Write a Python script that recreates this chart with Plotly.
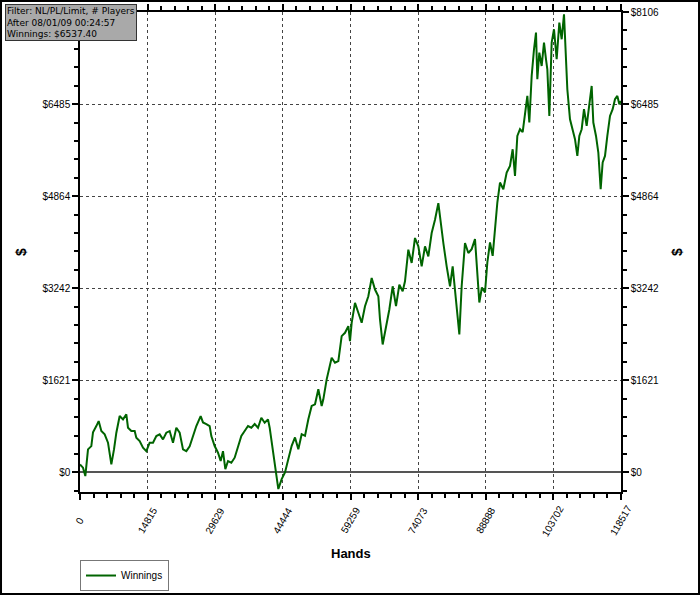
import plotly.graph_objects as go

# cumulative winnings
hands = [
    0, 657, 1168, 1753, 2483, 2848, 3578, 4089, 4674, 5404, 6134, 6865, 7448,
    7960, 8690, 9420, 10150, 10515, 11245, 11976, 12341, 13071, 13801, 14531,
    15262, 15992, 16722, 17453, 18183, 18913, 19643, 20374, 21104, 21834,
    22564, 23294, 24025, 24755, 25485, 26434, 26946, 27676, 28406, 28771,
    29502, 30232, 30816, 31327, 31838, 32422, 33152, 33883, 34613, 35343,
    36073, 36804, 37534, 38264, 38994, 39724, 40455, 41185, 41550,
    42353, 42937, 43449, 44179, 44909, 45640, 46370, 47100, 47830, 48561,
    49291, 50021, 50751, 51482, 52212, 52942, 53307, 54037, 54621, 55133,
    55863, 56593, 57323, 58054, 58784, 59149, 59514, 60244, 60975, 61705,
    62435, 63165, 63896, 64626, 65356, 65721, 66305, 67036, 67766, 68496,
    69226, 69957, 70687, 71198, 71928, 72659, 73389, 74119, 74849, 75580,
    76310, 77040, 77770, 78501, 79012, 79596, 80326, 81057, 81641, 82152,
    82663, 83102, 83613, 84343, 85073,
    85803, 86533, 87044, 87482, 88043, 88723, 89235, 89819, 90403, 90914,
    91426, 92010, 92740, 93470, 94201, 94785, 95296, 95807, 96391, 96976,
    97487, 97998, 98436, 98947, 99458, 99896, 100188, 100626, 101138, 101649,
    102087, 102379, 102817, 103328, 103839, 104423, 105008, 105519, 106030,
    106468, 106760, 107344, 107928, 108440, 108951, 109389, 109900, 110411,
    110995, 111579, 112091, 112456, 113040, 113551, 114062, 114500, 115011,
    115522, 116107, 116691, 117202, 117713, 118151, 118517,
]
winnings = [
    140, 83, -65, 405, 463, 705, 816, 904, 728, 670, 523, 141, 405,
    699, 992, 934, 1022, 787, 728, 728, 611, 552, 435, 375,
    523, 523, 640, 670, 581, 699, 728, 523, 787, 699,
    405, 375, 458, 640, 816, 992, 880, 851, 816, 640,
    464, 346, 200, 375, 58, 200, 170, 259, 464, 640,
    728, 816, 787, 851, 787, 962, 875, 934, 787,
    351, 0, -293, -118, 0, 234, 468, 615, 409, 673,
    643, 936, 1170, 1199, 1463, 1170, 1287, 1638, 1872, 2019,
    1931, 1960, 2399, 2458, 2575, 2311, 2634, 2985, 2810, 2634,
    2926, 3101, 3424, 3219, 3101, 2692, 2253, 2575, 2868, 3277,
    2926, 3307, 3189, 3365, 3921, 3688, 4127, 3980, 3628, 3980,
    3804, 4215, 4448, 4741, 4390, 4039, 3628, 3277, 3628, 3219,
    2868, 2429, 3277, 4039, 3863,
    3930, 4106, 3460, 2992, 3256, 3168, 3696, 4048, 3812, 4340,
    4752, 5104, 4986, 5280, 5396, 5690, 5220, 5924, 6042, 5990,
    6336, 6628, 6160, 6980, 7450, 7744, 6922, 7392, 7156, 7568,
    7274, 7098, 6276, 7568, 7802, 7274, 7920, 7626, 8066,
    7392, 6746, 6218, 6042, 5866, 5572, 5924, 6042, 6394,
    6100, 6452, 6804, 6160, 5924, 5632, 4986, 5456, 5572,
    5924, 6276, 6394, 6570, 6628, 6482, 6537.40,
]

x_ticks = [0, 14815, 29629, 44444, 59259, 74073, 88888, 103702, 118517]
x_tick_text = ["0", "14815", "29629", "44444", "59259", "74073", "88888", "103702", "118517"]
y_ticks = [0, 1621, 3242, 4864, 6485, 8106]
y_tick_text = ["$0", "$1621", "$3242", "$4864", "$6485", "$8106"]
# top-left label sits under the filter box in the original
y_tick_text_left = y_tick_text[:-1] + [""]

y_range = [-345, 8106]
FONT = "Liberation Sans, Arial, sans-serif"

fig = go.Figure()
fig.add_trace(go.Scatter(
    x=hands, y=winnings, mode="lines", name="Winnings",
    line=dict(color="#006400", width=2),
))
# carrier for the right-hand axis
fig.add_trace(go.Scatter(
    x=[hands[0]], y=[winnings[0]], yaxis="y2", mode="lines",
    line=dict(width=0), showlegend=False, hoverinfo="skip",
))

axis_common = dict(
    showline=True, linecolor="black", linewidth=1.5,
    ticks="outside", ticklen=6, tickcolor="black", tickwidth=1.5,
    tickfont=dict(family=FONT, size=10, color="black"),
)
y_minor = dict(ticks="outside", ticklen=4, dtick=8106 / 25, tick0=0,
               tickcolor="black", showgrid=False)

fig.update_layout(
    width=700, height=595,
    margin=dict(l=80, r=79, t=12, b=103, autoexpand=False),
    paper_bgcolor="white", plot_bgcolor="white",
    font=dict(family=FONT, size=10, color="black"),
    xaxis=dict(
        **axis_common, range=[0, 118517], tickvals=x_ticks, showticklabels=False,
        mirror="ticks", zeroline=False,
        showgrid=True, gridcolor="#444444", griddash="dot", gridwidth=1,
        minor=dict(ticks="outside", ticklen=4, dtick=118517 / 40, tick0=0,
                   tickcolor="black", showgrid=False),
    ),
    yaxis=dict(
        **axis_common, range=y_range, tickvals=y_ticks, ticktext=y_tick_text_left,
        showgrid=True, gridcolor="#444444", griddash="dot", gridwidth=1,
        zeroline=True, zerolinecolor="#555555", zerolinewidth=1.5,
        minor=y_minor,
    ),
    yaxis2=dict(
        **axis_common, overlaying="y", side="right", range=y_range,
        tickvals=y_ticks, ticktext=y_tick_text, showgrid=False, zeroline=False,
        minor=y_minor,
    ),
    showlegend=True,
    legend=dict(
        x=0, y=-0.174, xanchor="left", yanchor="middle",
        bgcolor="white", bordercolor="#777777", borderwidth=1,
        font=dict(family=FONT, size=10), itemwidth=30,
    ),
)

# rotated hand-count labels under the x axis
for v, t in zip(x_ticks, x_tick_text):
    fig.add_annotation(
        x=v, xref="x", y=-0.06, yref="paper", text=t, showarrow=False,
        textangle=-60, font=dict(family=FONT, size=10, color="black"),
        xanchor="center", yanchor="middle",
    )

fig.add_annotation(
    x=0.5, xref="paper", y=-0.129, yref="paper", text="<b>Hands</b>",
    showarrow=False, font=dict(family=FONT, size=13),
    xanchor="center", yanchor="middle",
)
for xp in (-0.109, 1.1035):
    fig.add_annotation(
        x=xp, xref="paper", y=0.5, yref="paper", text="<b>$</b>",
        showarrow=False, textangle=-90, font=dict(family=FONT, size=14),
        xanchor="center", yanchor="middle",
    )

fig.add_annotation(
    x=-0.1386, xref="paper", y=1.0167, yref="paper",
    xanchor="left", yanchor="top", align="left", showarrow=False,
    text="Filter: NL/PL/Limit, # Players<br>After 08/01/09 00:24:57<br>Winnings: $6537.40",
    font=dict(family="DejaVu Sans", size=9, color="black"),
    bgcolor="#a9a9a9", bordercolor="#333333", borderwidth=1, borderpad=1,
)

# frame around the whole picture
fig.add_shape(
    type="rect", xref="paper", yref="paper",
    x0=-0.146, x1=1.1442, y0=-0.2125, y1=1.0229,
    line=dict(color="black", width=2),
)

# drop the default page margin so the 700x595 figure fills the window
fig.write_html(
    "out.html",
    config={"displayModeBar": False},
    post_script="document.body.style.margin='0';document.body.style.overflow='hidden';",
)
